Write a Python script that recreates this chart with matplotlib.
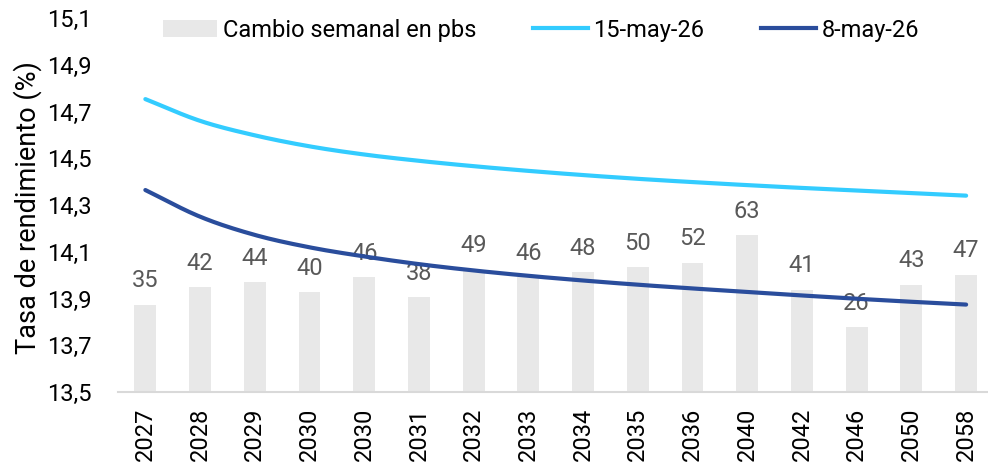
import matplotlib
matplotlib.use("Agg")
import numpy as np
import matplotlib.pyplot as plt
from matplotlib.ticker import FuncFormatter, FixedLocator
from matplotlib.patches import Patch
from matplotlib.lines import Line2D

plt.rcParams['font.family'] = ['Roboto', 'DejaVu Sans']

categories = ["2027", "2028", "2029", "2030", "2030", "2031", "2032", "2033",
              "2034", "2035", "2036", "2040", "2042", "2046", "2050", "2058"]
cambio_pbs = [35, 42, 44, 40, 46, 38, 49, 46, 48, 50, 52, 63, 41, 26, 43, 47]
curva_15may = [14.753, 14.660, 14.598, 14.551, 14.516, 14.489, 14.466, 14.446,
               14.428, 14.412, 14.398, 14.385, 14.373, 14.362, 14.351, 14.340]
curva_8may = [14.364, 14.250, 14.172, 14.119, 14.080, 14.047, 14.020, 13.997,
              13.977, 13.959, 13.943, 13.928, 13.913, 13.899, 13.886, 13.874]
yticks = [13.5, 13.7, 13.9, 14.1, 14.3, 14.5, 14.7, 14.9, 15.1]


def smooth(xs, ys, n=20):
    """Catmull-Rom smoothing through the data points (like Excel smoothed lines)."""
    xs = np.asarray(xs, float)
    ys = np.asarray(ys, float)
    P = np.column_stack([xs, ys])
    P = np.vstack([2 * P[0] - P[1], P, 2 * P[-1] - P[-2]])
    out = []
    t = np.linspace(0, 1, n, endpoint=False)[:, None]
    for i in range(1, len(P) - 2):
        p0, p1, p2, p3 = P[i - 1], P[i], P[i + 1], P[i + 2]
        seg = 0.5 * ((2 * p1) + (-p0 + p2) * t + (2 * p0 - 5 * p1 + 4 * p2 - p3) * t ** 2
                     + (-p0 + 3 * p1 - 3 * p2 + p3) * t ** 3)
        out.append(seg)
    out.append(P[-2][None, :])
    out = np.vstack(out)
    return out[:, 0], out[:, 1]


W, H = 988, 462
FS = 17
fig = plt.figure(figsize=(W / 100, H / 100), dpi=100)
left, right, top, bottom = 118, 988, 18, 392
ax = fig.add_axes([left / W, 1 - bottom / H, (right - left) / W, (bottom - top) / H])
ax2 = ax.twinx()
ax.set_zorder(ax2.get_zorder() + 1)
ax.patch.set_visible(False)

x = list(range(len(categories)))
bar_color = "#E8E8E8"
c_light = "#33CCFF"
c_dark = "#2A4D9C"

ax2.bar(x, cambio_pbs, width=0.4, color=bar_color, zorder=1)
ax2.set_ylim(0, 150.2)
ax2.set_yticks([])
for s in ax2.spines.values():
    s.set_visible(False)
for xi, v in zip(x, cambio_pbs):
    ax2.annotate(str(v), (xi, v), xytext=(0, 9), textcoords="offset points",
                 ha="center", va="bottom", fontsize=FS, color="#595959")

sx, sy = smooth(x, curva_15may)
ax.plot(sx, sy, color=c_light, lw=3, solid_capstyle="round", zorder=3)
sx, sy = smooth(x, curva_8may)
ax.plot(sx, sy, color=c_dark, lw=3, solid_capstyle="round", zorder=3)

ax.set_ylim(13.5, 15.1)
ax.yaxis.set_major_locator(FixedLocator(yticks))
ax.yaxis.set_major_formatter(FuncFormatter(lambda v, p: f"{v:.1f}".replace(".", ",")))
ax.set_xlim(-0.5, 15.4)
ax.set_xticks(x)
ax.set_xticklabels(categories, rotation=90)
ax.tick_params(axis="both", length=0, labelsize=FS, colors="black")
ax.tick_params(axis="y", pad=19)
ax.tick_params(axis="x", pad=11)
for k in ["top", "right", "left"]:
    ax.spines[k].set_visible(False)
ax.spines["bottom"].set_color("#D9D9D9")
ax.spines["bottom"].set_linewidth(1.5)

fig.text(28 / W, 1 - 208 / H, "Tasa de rendimiento (%)", rotation=90,
         ha="center", va="center", fontsize=19.5, color="black")

handles = [Patch(facecolor=bar_color, edgecolor="none"),
           Line2D([], [], color=c_light, lw=3),
           Line2D([], [], color=c_dark, lw=3)]
labels = ["Cambio semanal en pbs", "15-may-26", "8-may-26"]
fig.legend(handles, labels, loc="center", bbox_to_anchor=(541 / W, 1 - 30 / H),
           ncol=3, frameon=False, fontsize=FS, handlelength=2.3,
           handletextpad=0.25, columnspacing=2.4)

fig.savefig("out.png", dpi=100)
